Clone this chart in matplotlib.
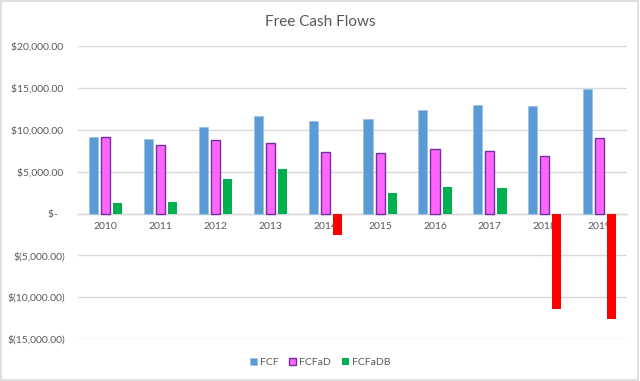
import numpy as np
import matplotlib
matplotlib.use("Agg")
import matplotlib.pyplot as plt
from matplotlib.ticker import FuncFormatter
from matplotlib.patches import Rectangle

years = ["2010", "2011", "2012", "2013", "2014", "2015", "2016", "2017", "2018", "2019"]
fcf = [9100, 8870, 10300, 11690, 11050, 11290, 12370, 12930, 12810, 14920]
fcfad = [9200, 8190, 8820, 8390, 7310, 7190, 7670, 7430, 6870, 8990]
fcfadb = [1220, 1340, 4090, 5280, -2570, 2410, 3170, 3090, -11450, -12650]

plt.rcParams['font.family'] = ['Lato', 'DejaVu Sans']
grey_txt = '#595959'
grid_col = '#D9D9D9'


def acct(v, pos):
    # excel accounting style
    if abs(v) < 1e-6:
        return "$-   "
    if v < 0:
        return "$({:,.2f})".format(-v)
    return "${:,.2f} ".format(v)


fig = plt.figure(figsize=(6.4, 3.81), dpi=100)
fig.patches.append(Rectangle((0.002, 0.003), 0.995, 0.994, transform=fig.transFigure,
                             fill=False, edgecolor=grid_col, linewidth=1.2))
ax = fig.add_axes([0.122, 0.110, 0.858, 0.769])

x = np.arange(len(years))
w = 0.165
step = 0.22
ax.bar(x - step, fcf, w, color='#5B9BD5', edgecolor='#9DC3E6', linewidth=0.6, label='FCF', zorder=3)
ax.bar(x, fcfad, w, color='#FF66FF', edgecolor='#7030A0', linewidth=1.0, label='FCFaD', zorder=3)
db_cols = ['#00B050' if v >= 0 else '#FF0000' for v in fcfadb]
ax.bar(x + step, fcfadb, w, color=db_cols, linewidth=0, label='FCFaDB', zorder=3)

ax.set_xlim(-0.5, len(years) - 0.5)
ax.set_ylim(-15000, 20000)
ax.set_yticks(np.arange(-15000, 20001, 5000))
ax.yaxis.set_major_formatter(FuncFormatter(acct))
ax.grid(axis='y', color=grid_col, linewidth=1.0, zorder=0)

for s in ['top', 'right', 'left']:
    ax.spines[s].set_visible(False)
ax.spines['bottom'].set_position(('data', 0))
ax.spines['bottom'].set_color(grid_col)
ax.spines['bottom'].set_linewidth(1.0)
ax.spines['bottom'].set_zorder(2)

ax.set_xticks(x)
ax.set_xticklabels(years)
ax.tick_params(axis='both', length=0, labelsize=7.5, labelcolor=grey_txt)
ax.tick_params(axis='x', pad=6)
ax.tick_params(axis='y', pad=9)

fig.text(0.5, 0.942, "Free Cash Flows", ha='center', va='center', fontsize=11, color=grey_txt)

leg = fig.legend(loc='center', bbox_to_anchor=(0.5, 0.048), ncol=3, frameon=False,
                 fontsize=7.5, handlelength=0.7, handleheight=0.7, handletextpad=0.3,
                 columnspacing=1.0, labelcolor=grey_txt)
leg.legend_handles[2].set_color('#00B050')

fig.savefig("out.png", dpi=100)
